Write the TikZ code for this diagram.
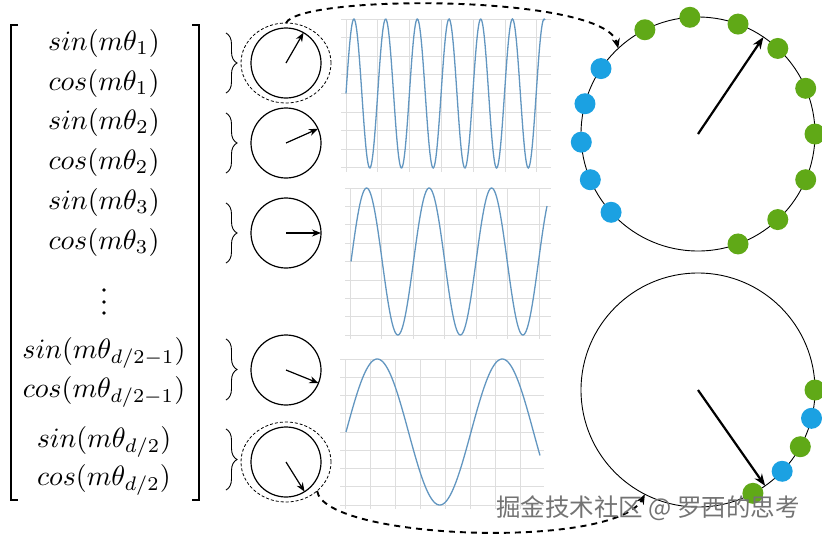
\documentclass[tikz,border=0pt]{standalone}
\usepackage{fontspec}
\newfontfamily\cjkfont{Noto Sans CJK SC}
\usetikzlibrary{arrows.meta,decorations.pathreplacing,shapes.geometric}
\definecolor{dotgreen}{RGB}{96,169,23}
\definecolor{dotblue}{RGB}{27,161,226}
\definecolor{wavecol}{RGB}{98,150,192}
\definecolor{gridcol}{RGB}{222,222,222}
\newcommand{\ligne}[1]{\scalebox{2.8}{$#1$}}
\tikzset{
  entry/.style={font=\normalsize, inner sep=0pt, anchor=base},
  bracket/.style={line width=2.2pt},
  accolade/.style={decorate, decoration={brace, amplitude=11pt}, line width=0.9pt},
  rotor/.style={circle, draw, line width=1.2pt, minimum size=70pt, inner sep=0pt, outer sep=0pt},
  halo/.style={ellipse, draw, line width=0.8pt, dash pattern=on 3pt off 2pt,
    minimum width=90pt, minimum height=80pt, inner sep=0pt, outer sep=0pt},
  wheel/.style={circle, draw, line width=0.9pt, minimum size=234pt, inner sep=0pt, outer sep=0pt},
  petit/.style={-{Stealth[length=9pt,width=7pt]}, line width=1.2pt},
  grand/.style={-{Stealth[length=12pt,width=9pt]}, line width=2.2pt},
  lien/.style={-{Stealth[length=10pt,width=8pt]}, line width=1.9pt, dash pattern=on 6pt off 5pt},
  gridline/.style={draw=gridcol, line width=0.8pt},
  wave/.style={draw=wavecol, line width=1.3pt},
  gdot/.style={circle, fill=dotgreen, minimum size=21pt, inner sep=0pt},
  bdot/.style={circle, fill=dotblue, minimum size=21pt, inner sep=0pt},
  watermark/.style={font=\cjkfont\fontsize{24.5}{28}\selectfont, text=black!55, inner sep=0pt},
}
\begin{document}
\begin{tikzpicture}[x=1pt,y=-1pt]
  \useasboundingbox (0,0) rectangle (822,539);
  % vecteur
  \draw[bracket] (18,25) -- (11,25) -- (11,500) -- (18,500);
  \draw[bracket] (192,25) -- (199,25) -- (199,500) -- (192,500);
  \foreach \y/\t [count=\i] in {50.5/{sin(m\theta_1)}, 90.5/{cos(m\theta_1)},
      129.5/{sin(m\theta_2)}, 169.5/{cos(m\theta_2)},
      209.5/{sin(m\theta_3)}, 249.5/{cos(m\theta_3)},
      358.5/{sin(m\theta_{d/2-1})}, 397.5/{cos(m\theta_{d/2-1})},
      447/{sin(m\theta_{d/2})}, 485.5/{cos(m\theta_{d/2})}}
    \node[entry] (e\i) at (104,\y) {\ligne{\t}};
  \foreach \y in {290,302,313}
    \fill (104,\y) circle (1.9pt);
  % accolades
  \foreach \a/\b in {33/93, 113/173, 203/263, 339/400, 429/490}
    \draw[accolade] (226,\a) -- (226,\b);
  % rotations
  \node[rotor] (c1) at (286,63) {};
  \node[rotor] (c2) at (286,143) {};
  \node[rotor] (c3) at (286,233) {};
  \node[rotor] (c4) at (286,370) {};
  \node[rotor] (c5) at (286,462) {};
  \node[halo] (h1) at (286,63) {};
  \node[halo] (h5) at (286,462) {};
  \draw[petit] (c1.center) -- (c1.60);
  \draw[petit] (c2.center) -- (c2.24);
  \draw[petit] (c3.center) -- (c3.0);
  \draw[petit] (c4.center) -- (c4.-22);
  \draw[petit] (c5.center) -- (c5.-58);
  % courbes
  \foreach \gx in {0,...,6}
    \draw[gridline] ({346+31.8*\gx},19) -- ({346+31.8*\gx},172);
  \foreach \gy in {0,...,8}
    \draw[gridline] (341,{19+18.6*\gy}) -- (551,{19+18.6*\gy});
  \draw[wave] plot[domain=346:545, samples=300] (\x,{93.5-74.5*sin((\x-346)/31.7*360)});
  \foreach \gx in {0,...,6}
    \draw[gridline] ({350+31.5*\gx},188) -- ({350+31.5*\gx},339);
  \foreach \gy in {0,...,8}
    \draw[gridline] (345,{188+18.4*\gy}) -- (551,{188+18.4*\gy});
  \draw[wave] plot[domain=351:547, samples=200] (\x,{261.5-73.5*sin((\x-351)/62.5*360)});
  \foreach \gx in {0,...,7}
    \draw[gridline] ({345+25*\gx},359) -- ({345+25*\gx},509);
  \foreach \gy in {0,...,8}
    \draw[gridline] (340,{359+18.25*\gy}) -- (544,{359+18.25*\gy});
  \draw[wave] plot[domain=346:540, samples=200] (\x,{432-73*sin((\x-346)/125*360)});
  % cercles
  \node[wheel] (big1) at (698,134) {};
  \node[wheel] (big2) at (698,390) {};
  \foreach \a in {-70,-47,-23.5,0,23.5,47,70,94,117}
    \node[gdot] at (big1.\a) {};
  \foreach \a in {146,165,184,203,222}
    \node[bdot] at (big1.\a) {};
  \foreach \a/\s in {0/gdot,-14.5/bdot,-29.5/gdot,-44.5/bdot,-62/gdot}
    \node[\s] at (big2.\a) {};
  \draw[grand] (big1.center) -- (big1.56);
  \draw[grand] (big2.center) -- (big2.-55);
  % liens
  \draw[lien] (h1.north) .. controls (300,-6) and (605,-6) .. (big1.133);
  \draw[lien] (h5.-43) .. controls (325,540) and (615,550) .. (big2.243);
  \node[watermark] (wm) at (648,508) {掘金技术社区 @ 罗西的思考};
\end{tikzpicture}
\end{document}
